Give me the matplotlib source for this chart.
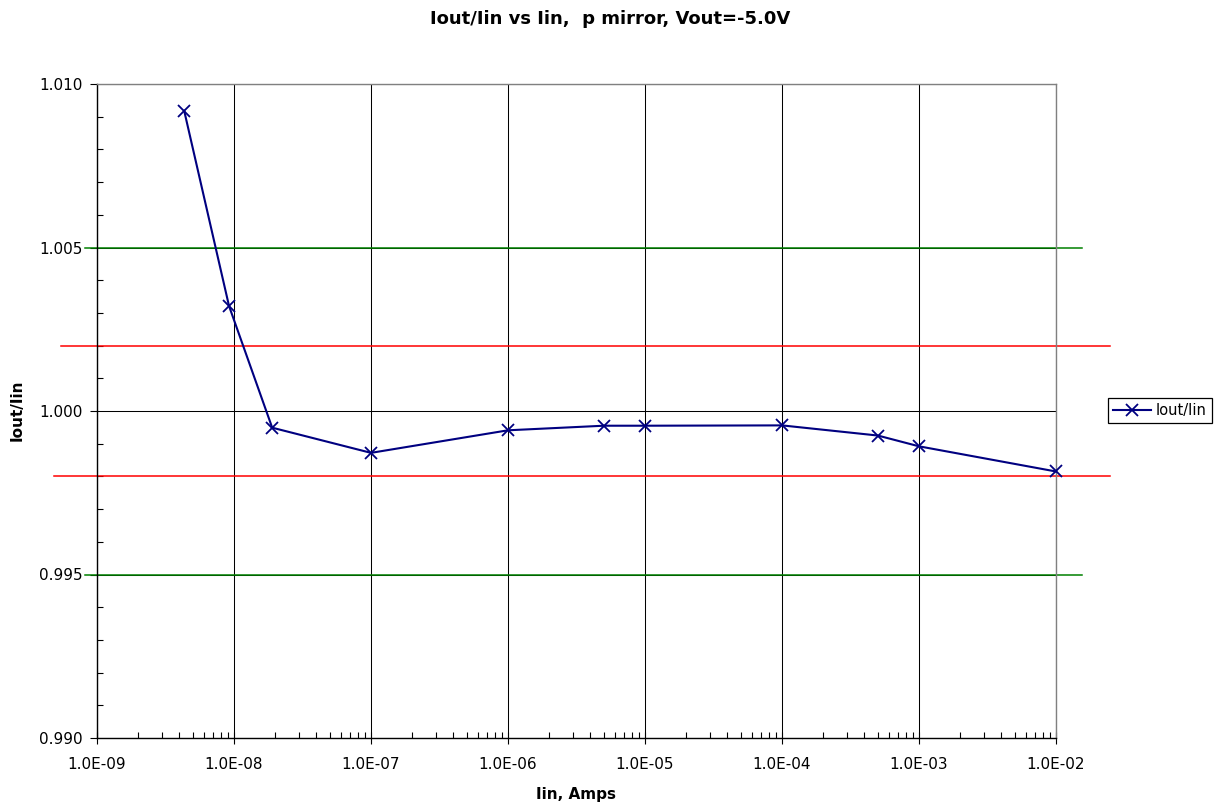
import matplotlib
matplotlib.use("Agg")
import matplotlib.pyplot as plt
import matplotlib.ticker as mticker
import matplotlib.transforms as mtransforms

# the reference uses a wide sans face, DejaVu Sans matches its proportions
plt.rcParams['font.family'] = ['DejaVu Sans']

# data
iin = [4.33e-9, 9.2e-9, 1.9e-8, 1e-7, 1e-6, 5e-6, 1e-5, 1e-4, 5e-4, 1e-3, 1e-2]
ratio = [1.00918, 1.00321, 0.99949, 0.99872, 0.99941, 0.99955, 0.99955,
         0.99956, 0.99925, 0.99892, 0.99815]

green_levels = [1.005, 0.995]
red_levels = [1.002, 0.998]

decades = [1e-9, 1e-8, 1e-7, 1e-6, 1e-5, 1e-4, 1e-3, 1e-2]

title = "Iout/Iin vs Iin,  p mirror, Vout=-5.0V"
xlabel = "Iin, Amps"
ylabel = "Iout/Iin"
series_label = "Iout/Iin"

fig = plt.figure(figsize=(12.2, 8.06), dpi=100)
ax = fig.add_axes([97 / 1220, 68 / 806, 959 / 1220, 654 / 806])

ax.set_xscale('log')
ax.set_xlim(decades[0], decades[-1])
ax.set_ylim(0.990, 1.010)

minor_x = [d * k for d in decades[:-1] for k in range(2, 10)]
ax.xaxis.set_major_locator(mticker.FixedLocator(decades))
ax.xaxis.set_minor_locator(mticker.FixedLocator(minor_x))
ax.xaxis.set_minor_formatter(mticker.NullFormatter())
ax.xaxis.set_major_formatter(mticker.FuncFormatter(lambda v, p: f"{v:.1E}"))
ax.yaxis.set_major_locator(mticker.MultipleLocator(0.005))
ax.yaxis.set_minor_locator(mticker.MultipleLocator(0.001))
ax.yaxis.set_major_formatter(mticker.FormatStrFormatter('%.3f'))
ax.grid(True, which='major', color='black', linewidth=0.75)
ax.set_axisbelow(True)

ax.tick_params(axis='x', which='major', direction='inout', length=8, width=0.8,
               labelsize=11, pad=10)
ax.tick_params(axis='x', which='minor', direction='in', length=4, width=0.8)
ax.tick_params(axis='y', which='major', direction='out', length=5, width=0.8,
               labelsize=11, pad=5.5)
ax.tick_params(axis='y', which='minor', direction='in', length=4, width=0.8)

for side in ['left', 'bottom']:
    ax.spines[side].set_color('black')
    ax.spines[side].set_linewidth(1.0)
for side in ['top', 'right']:
    ax.spines[side].set_color('#808080')
    ax.spines[side].set_linewidth(1.0)

# limit lines drawn across (and a bit beyond) the plot area
trans = mtransforms.blended_transform_factory(ax.transAxes, ax.transData)
for lvl in green_levels:
    ax.plot([-0.0125, 1.027], [lvl, lvl], color='#008000', linewidth=1.1,
            transform=trans, clip_on=False, zorder=2)
for lvl, x0 in zip(red_levels, [-0.0375, -0.045]):
    ax.plot([x0, 1.056], [lvl, lvl], color='#ff0000', linewidth=1.1,
            transform=trans, clip_on=False, zorder=2)

ax.plot(iin, ratio, color='#000080', linewidth=1.5, marker='x', markersize=8,
        markeredgewidth=1.3, label=series_label, zorder=3, clip_on=False)

leg = ax.legend(loc='center', bbox_to_anchor=(1160 / 1220, 1 - 410.5 / 806),
                bbox_transform=fig.transFigure, fancybox=False, framealpha=1,
                edgecolor='black', fontsize=10.5, handlelength=2.6,
                borderpad=0.35, handletextpad=0.3, borderaxespad=0)
leg.get_frame().set_linewidth(0.9)

fig.text(0.5, 1 - 19 / 806, title, ha='center', va='center', fontsize=13,
         fontweight='bold')
fig.text(576 / 1220, 1 - 795 / 806, xlabel, ha='center', va='center',
         fontsize=11, fontweight='bold')
fig.text(17 / 1220, 1 - 410 / 806, ylabel, ha='center', va='center',
         rotation=90, fontsize=11, fontweight='bold')

fig.savefig('out.png', dpi=100)
